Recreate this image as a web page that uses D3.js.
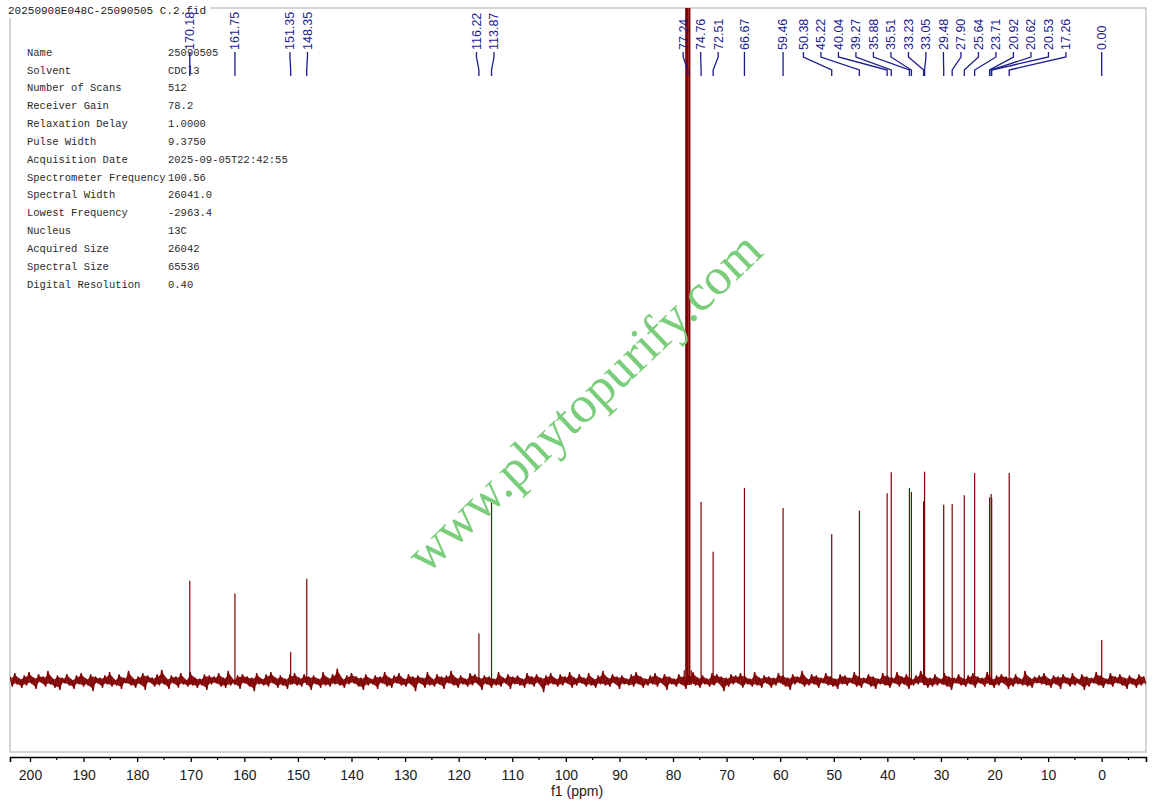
<!DOCTYPE html>
<html>
<head>
<meta charset="utf-8">
<script src="https://cdn.jsdelivr.net/npm/d3@7"></script>
<style>
  body { margin: 0; background: #fff; }
  svg { display: block; }
</style>
</head>
<body>
<div id="chart"></div>
<script>
// picked peaks (ppm) and their heights (baseline = 0, top of frame = 100)
const peakShifts = [170.18, 161.75, 151.35, 148.35, 116.22, 113.87, 77.24, 74.76, 72.51, 66.67,
    59.46, 50.38, 45.22, 40.04, 39.27, 35.88, 35.51, 33.23, 33.05, 29.48, 27.90, 25.64, 23.71,
    20.92, 20.62, 20.53, 17.26, 0.00];
const peakHeights = [14.9, 13.0, 4.3, 15.2, 7.1, 27.0, 150, 26.6, 19.2, 28.7,
    25.7, 21.8, 25.3, 27.9, 31.0, 28.7, 28.1, 26.7, 31.1, 26.2, 26.3, 27.6, 30.9,
    27.3, 27.8, 27.2, 30.9, 6.1];
// unlabelled CDCl3 lines around the 77.24 line
const solventShifts = [77.9, 77.56, 76.92, 76.6];
const solventHeights = [1.6, 150, 150, 1.6];

// baseline noise, in sixths of a height unit, left to right (pairs of upper / lower excursions)
const baselineNoise = [
    4,-5,7,-3,2,-6,5,-4,8,-2,3,-7,6,-1,4,-5,9,-3,2,-6,5,-8,3,-2,6,-4,1,-7,5,-3,7,-5,2,-4,6,-9,4,-2,3,-6,
    5,-3,8,-5,1,-4,6,-7,3,-2,9,-4,2,-6,4,-3,7,-8,5,-1,3,-5,6,-4,10,-3,2,-7,5,-2,4,-6,7,-3,1,-5,8,-4,3,-6,
    2,-4,6,-8,5,-3,4,-2,7,-5,3,-6,9,-4,1,-3,5,-7,6,-2,4,-5,3,-9,7,-3,2,-4,6,-5,8,-2,3,-6,5,-4,2,-7,6,-3,
    7,-4,3,-5,6,-2,4,-8,5,-3,2,-6,8,-4,3,-5,6,-3,11,-4,2,-6,5,-3,7,-2,4,-5,3,-8,6,-4,2,-3,5,-7,4,-2,8,-5,
    3,-6,5,-2,7,-4,2,-5,6,-3,4,-9,5,-2,3,-6,8,-4,2,-5,6,-3,4,-7,5,-2,9,-4,3,-6,5,-3,2,-5,7,-4,6,-2,3,-8,
    5,-3,4,-6,2,-4,8,-5,3,-2,6,-7,4,-3,5,-4,2,-6,7,-3,4,-5,6,-2,3,-10,5,-4,7,-3,2,-5,6,-4,4,-2,8,-6,3,-4,
    6,-2,3,-5,7,-4,2,-6,5,-3,9,-4,3,-5,6,-2,4,-7,5,-3,2,-4,6,-5,8,-3,4,-6,2,-4,5,-3,7,-5,3,-2,6,-8,4,-3,
    2,-5,6,-3,4,-7,5,-2,8,-4,3,-6,5,-3,2,-5,7,-4,6,-2,4,-9,3,-5,6,-3,5,-2,7,-6,4,-3,2,-5,8,-4,3,-6,5,-2,
    4,-6,3,-4,7,-2,5,-5,3,-8,6,-3,4,-2,9,-5,2,-4,6,-3,5,-6,3,-2,7,-4,4,-5,2,-7,6,-3,5,-4,3,-2,8,-5,4,-6,
    3,-2,6,-5,4,-7,2,-3,7,-4,5,-6,3,-2,8,-5,4,-3,6,-7,2,-4,5,-3,9,-2,4,-6,3,-5,6,-4,2,-3,7,-5,4,-8,3,-2,
    6,-4,2,-5,5,-3,7,-6,4,-2,3,-5,8,-3,2,-6,5,-4,6,-2,4,-7,3,-5,6,-3,2,-4,9,-5,3,-6,4,-2,5,-3,7,-4,2,-6,
    5,-3,4,-7,6,-2,3,-5,7,-4,2,-3,6,-8,4,-5,3,-2,8,-4,5,-6,2,-3,7,-5,4,-2,6,-4,3,-7,5,-3,2,-6,6,-4,4,-3
];

const majorTicks = [200, 190, 180, 170, 160, 150, 140, 130, 120, 110, 100, 90, 80, 70, 60, 50, 40, 30, 20, 10, 0];
const minorTicks = [195, 185, 175, 165, 155, 145, 135, 125, 115, 105, 95, 85, 75, 65, 55, 45, 35, 25, 15, 5, -5];

const titleText = "20250908E048C-25090505 C.2.fid";
const paramNames = ["Name", "Solvent", "Number of Scans", "Receiver Gain", "Relaxation Delay", "Pulse Width",
    "Acquisition Date", "Spectrometer Frequency", "Spectral Width", "Lowest Frequency", "Nucleus",
    "Acquired Size", "Spectral Size", "Digital Resolution"];
const paramValues = ["25090505", "CDCl3", "512", "78.2", "1.0000", "9.3750", "2025-09-05T22:42:55",
    "100.56", "26041.0", "-2963.4", "13C", "26042", "65536", "0.40"];
const watermarkText = "www.phytopurify.com";

const width = 1153, height = 808;
const frame = { left: 10, right: 1146, top: 8, bottom: 752 };
const axisY = 757;
const red = "#800000";
const blue = "#1b1b90";

const svg = d3.select("#chart").append("svg")
    .attr("width", width)
    .attr("height", height);

const x = d3.scaleLinear().domain([203.73, -8.27]).range([frame.left, frame.right]);
const y = d3.scaleLinear().domain([-10.55, 100]).range([frame.bottom, frame.top]);

// frame
svg.append("rect")
    .attr("x", frame.left).attr("y", frame.top)
    .attr("width", frame.right - frame.left).attr("height", frame.bottom - frame.top)
    .attr("fill", "none").attr("stroke", "#c8c8c8").attr("stroke-width", 1.5);

svg.append("clipPath").attr("id", "plot-clip")
    .append("rect")
    .attr("x", frame.left).attr("y", frame.top)
    .attr("width", frame.right - frame.left).attr("height", frame.bottom - frame.top);

const plot = svg.append("g").attr("clip-path", "url(#plot-clip)");

// baseline: noise samples spread evenly over the axis
const [d0, d1] = x.domain();
const noisePoints = baselineNoise.map((v, i) => ({ ppm: d0 + (d1 - d0) * i / (baselineNoise.length - 1), v: v / 6 }));
// pair each upper excursion with the following lower one to get the dense noise band
const noiseBand = d3.range(0, noisePoints.length - 1, 2).map(i => ({
    ppm: (noisePoints[i].ppm + noisePoints[i + 1].ppm) / 2,
    hi: Math.max(noisePoints[i].v, noisePoints[i + 1].v),
    lo: Math.min(noisePoints[i].v, noisePoints[i + 1].v)
}));

plot.append("path")
    .datum(noiseBand)
    .attr("d", d3.area().x(d => x(d.ppm)).y0(d => y(d.lo * 0.7)).y1(d => y(d.hi * 0.7)))
    .attr("fill", red)
    .attr("opacity", 0.9);

plot.append("path")
    .datum(noisePoints)
    .attr("d", d3.line().x(d => x(d.ppm)).y(d => y(d.v)))
    .attr("fill", "none")
    .attr("stroke", red)
    .attr("stroke-width", 1.3)
    .attr("stroke-linejoin", "bevel");

// peaks as sharp lines up from the baseline
const peaks = peakShifts.map((p, i) => ({ ppm: p, h: peakHeights[i] }))
    .concat(solventShifts.map((p, i) => ({ ppm: p, h: solventHeights[i] })));

plot.append("g")
    .selectAll("line")
    .data(peaks)
    .join("line")
    .attr("x1", d => x(d.ppm)).attr("x2", d => x(d.ppm))
    .attr("y1", y(-0.6)).attr("y2", d => y(d.h))
    .attr("stroke", red)
    .attr("stroke-width", d => d.h > 100 ? 1.8 : 1.2);

// bottom axis
const axis = svg.append("g")
    .attr("transform", `translate(0,${axisY})`)
    .call(d3.axisBottom(x).tickValues(majorTicks).tickSize(5).tickPadding(8).tickFormat(d3.format("d")));
axis.select(".domain").attr("stroke", "#000").attr("stroke-width", 1.6);
axis.selectAll(".tick line").attr("stroke", "#000").attr("stroke-width", 1.3);
axis.selectAll(".tick text")
    .attr("fill", "#1a1a1a")
    .style("font-family", "Arial, 'Liberation Sans', sans-serif")
    .style("font-size", "14px");

svg.append("g")
    .selectAll("line")
    .data(minorTicks)
    .join("line")
    .attr("x1", d => x(d)).attr("x2", d => x(d))
    .attr("y1", axisY).attr("y2", axisY + 3)
    .attr("stroke", "#000").attr("stroke-width", 1.2);

svg.append("text")
    .attr("x", 577).attr("y", 796)
    .attr("text-anchor", "middle")
    .style("font-family", "Arial, 'Liberation Sans', sans-serif")
    .style("font-size", "14px")
    .attr("fill", "#1a1a1a")
    .text("f1 (ppm)");

// title in the top left corner, sitting over the frame
const titleG = svg.append("g");
titleG.append("rect")
    .attr("x", 0).attr("y", 0).attr("width", 210).attr("height", 18)
    .attr("fill", "#fff");
titleG.append("text")
    .attr("x", 8).attr("y", 14)
    .style("font-family", "'Liberation Mono', monospace")
    .style("font-size", "11px")
    .attr("fill", "#222")
    .text(titleText);

// acquisition parameters
const params = svg.append("g")
    .style("font-family", "'Liberation Mono', monospace")
    .style("font-size", "10.5px")
    .attr("fill", "#2a2a2a");
paramNames.forEach((name, i) => {
    const rowY = 52 + i * 17.85;
    params.append("text").attr("x", 27).attr("y", rowY).attr("dy", "0.35em").text(name);
    params.append("text").attr("x", 168).attr("y", rowY).attr("dy", "0.35em").text(paramValues[i]);
});

// peak labels, spread apart where they would overlap
const gap = 17.5;
const items = peakShifts.map(p => ({ ppm: p, tx: x(p) })).sort((a, b) => a.tx - b.tx);
let clusters = items.map(d => [d]);
function place(c) {
    const m = d3.mean(c, d => d.tx);
    c.forEach((d, i) => { d.lx = m + (i - (c.length - 1) / 2) * gap; });
}
let merged = true;
while (merged) {
    merged = false;
    clusters.forEach(place);
    for (let i = 0; i < clusters.length - 1; i++) {
        const a = clusters[i], b = clusters[i + 1];
        if (a[a.length - 1].lx + gap > b[0].lx) {
            clusters.splice(i, 2, a.concat(b));
            merged = true;
            break;
        }
    }
}

const labels = svg.append("g");
labels.selectAll("path")
    .data(items)
    .join("path")
    .attr("d", d => `M${d.lx},52 L${d.lx},57 L${d.tx},70 L${d.tx},76`)
    .attr("fill", "none")
    .attr("stroke", blue)
    .attr("stroke-width", 1.3);

labels.selectAll("text")
    .data(items)
    .join("text")
    .attr("transform", d => `translate(${d.lx},50) rotate(-90)`)
    .attr("dy", "0.35em")
    .style("font-family", "Arial, 'Liberation Sans', sans-serif")
    .style("font-size", "12.5px")
    .attr("fill", blue)
    .text(d => d.ppm.toFixed(2));

// watermark
svg.append("text")
    .attr("transform", "translate(585,403) rotate(-43.5)")
    .attr("text-anchor", "middle")
    .attr("dy", "0.3em")
    .style("font-family", "'Liberation Serif', 'Times New Roman', serif")
    .style("font-size", "52px")
    .attr("fill", "#7acd7a")
    .text(watermarkText);
</script>
</body>
</html>
